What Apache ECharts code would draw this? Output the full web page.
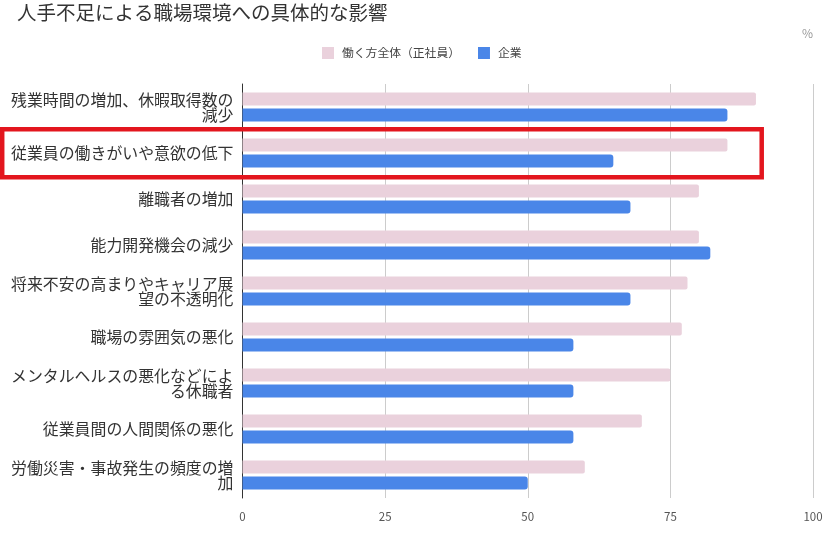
<!DOCTYPE html>
<html>
<head>
<meta charset="utf-8">
<script src="https://cdn.jsdelivr.net/npm/echarts@6/dist/echarts.min.js"></script>
<style>
html,body{margin:0;padding:0;background:#fff;}
#main{width:834px;height:539px;}
</style>
</head>
<body>
<div id="main"></div>
<script>
const categories = [
  "残業時間の増加、休暇取得数の\n減少",
  "従業員の働きがいや意欲の低下",
  "離職者の増加",
  "能力開発機会の減少",
  "将来不安の高まりやキャリア展\n望の不透明化",
  "職場の雰囲気の悪化",
  "メンタルヘルスの悪化などによ\nる休職者",
  "従業員間の人間関係の悪化",
  "労働災害・事故発生の頻度の増\n加"
];
const seriesNames = ["働く方全体（正社員）", "企業"];
const workers = [90, 85, 80, 80, 78, 77, 75, 70, 60];
const companies = [85, 65, 68, 82, 68, 58, 58, 58, 50];
const xTicks = [0, 25, 50, 75, 100];

const FONT = '"Noto Sans CJK JP", "Noto Sans", sans-serif';
const chart = echarts.init(document.getElementById('main'));
chart.setOption({
  animation: false,
  backgroundColor: '#fff',
  title: {
    text: '人手不足による職場環境への具体的な影響',
    left: 12, top: -2,
    textStyle: { fontFamily: FONT, fontSize: 19.5, fontWeight: 'normal', color: '#333' }
  },
  legend: {
    data: seriesNames,
    left: 317, top: 42,
    icon: 'rect', itemWidth: 12, itemHeight: 12, itemGap: 18,
    textStyle: { fontFamily: FONT, fontSize: 11.8, color: '#444', padding: [0, 0, 0, 3] }
  },
  grid: { left: 242.5, right: 21, top: 84, bottom: 41, containLabel: false },
  xAxis: {
    type: 'value', min: xTicks[0], max: xTicks[xTicks.length - 1], interval: 25,
    axisLine: { show: false },
    axisTick: { show: false },
    splitLine: { show: true, lineStyle: { color: '#cccccc', width: 1 } },
    axisLabel: { fontFamily: FONT, fontSize: 11.5, color: '#555', margin: 13 }
  },
  yAxis: {
    type: 'category', data: categories, inverse: true,
    axisLine: { show: true, lineStyle: { color: '#333', width: 1 } },
    axisTick: { show: false },
    axisLabel: { fontFamily: FONT, fontSize: 15.9, lineHeight: 15, color: '#333', margin: 9, align: 'right' }
  },
  series: [
    {
      name: seriesNames[0], type: 'bar', data: workers,
      barWidth: 13, barGap: '23%',
      itemStyle: { color: '#ead1dc', borderRadius: [0, 2, 2, 0] }
    },
    {
      name: seriesNames[1], type: 'bar', data: companies,
      barWidth: 13, barGap: '23%',
      itemStyle: { color: '#4a86e8', borderRadius: [0, 3, 3, 0] }
    }
  ],
  graphic: [
    {
      type: 'rect', z: 100,
      shape: { x: 2.2, y: 129.2, width: 759.5, height: 48 },
      style: { fill: 'none', stroke: '#e3161e', lineWidth: 4.5 }
    },
    {
      type: 'text', left: 802, top: 27,
      style: { text: '%', fontFamily: FONT, fontSize: 12, fill: '#999' }
    }
  ]
});
</script>
</body>
</html>
